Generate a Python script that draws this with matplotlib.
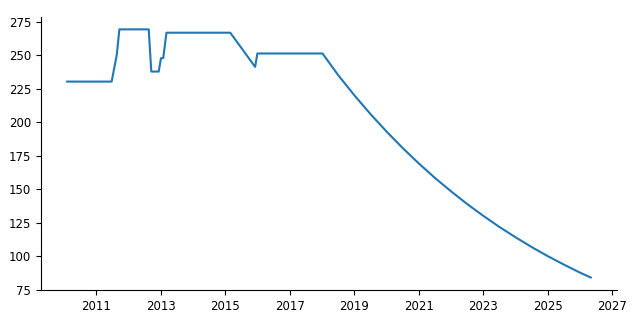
import matplotlib
matplotlib.use("Agg")
from matplotlib import pyplot as plt

# values (fractional years)
years = [2010.09, 2011.47, 2011.63, 2011.71, 2012.62, 2012.70, 2012.93,
         2013.00, 2013.07, 2013.17, 2015.15, 2015.92, 2015.99, 2018.01,
         2018.5, 2019.0, 2019.5, 2020.0, 2020.5, 2021.0, 2021.5, 2022.0,
         2022.5, 2023.0, 2023.5, 2024.0, 2024.5, 2025.0, 2025.5, 2026.0,
         2026.33]
values = [230.5, 230.5, 250.5, 269.5, 269.5, 238.0, 238.0,
          248.0, 248.0, 267.0, 267.0, 241.5, 251.5, 251.5,
          235.2, 220.2, 206.2, 193.1, 180.8, 169.3, 158.5, 148.5,
          139.0, 130.2, 121.9, 114.2, 106.9, 100.1, 93.8, 87.8,
          84.2]
xticks = list(range(2011, 2028, 2))

fig = plt.figure(figsize=(6.4, 3.2), dpi=100)
ax = fig.add_axes([0.064, 0.094, 0.9, 0.853])
ax.plot(years, values, color="#1f77b4", lw=1.5)
ax.set_xticks(xticks)
ax.set_xticklabels([str(t) for t in xticks])
ax.spines["top"].set_visible(False)
ax.spines["right"].set_visible(False)
ax.tick_params(labelsize=8.5)

plt.savefig("out.png", dpi=100)
